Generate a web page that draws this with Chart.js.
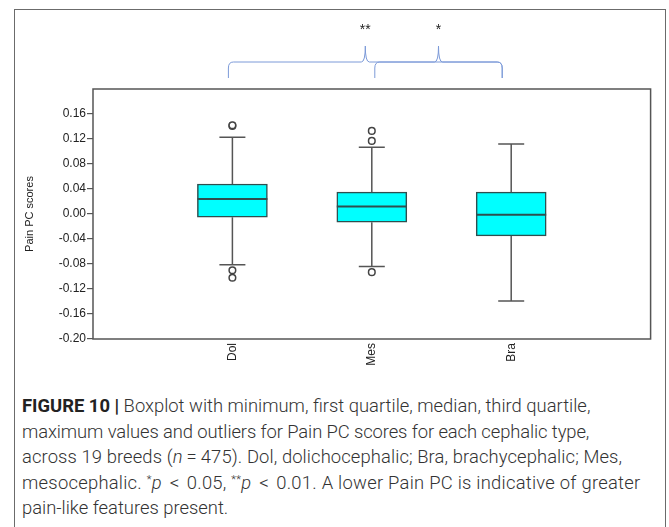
<!DOCTYPE html>
<html>
<head>
<meta charset="utf-8">
<script src="https://cdn.jsdelivr.net/npm/chart.js@4"></script>
<style>
  html, body { margin: 0; padding: 0; background: #fff; }
  body { width: 669px; height: 527px; position: relative; overflow: hidden; }
  #frame {
    position: absolute; left: 14px; top: 9px; width: 652px; height: 560px;
    border: 1px solid #6b6b6b; box-sizing: border-box;
  }
  #chart { position: absolute; left: 0; top: 0; }
  #caption {
    position: absolute; left: 22px; top: 393px;
    font-family: Roboto, "Liberation Sans", sans-serif;
    font-size: 18.4px; line-height: 25.5px; color: #333;
    white-space: nowrap; font-weight: 300;
  }
  #caption b { color: #222; font-weight: 700; }
  #caption .st { font-size: 11px; position: relative; top: -6px; line-height: 0; }
  #caption .op { display: inline-block; margin: 0 7px 0 8px; font-size: 19px; line-height: 0; }
  #caption .eq { display: inline-block; margin: 0 4px; line-height: 0; }
  #caption .l2 { letter-spacing: -0.1px; }
  #caption .l3 { letter-spacing: 0.1px; }
  #caption .l4 { letter-spacing: 0.25px; }
</style>
</head>
<body>
<div id="frame"></div>
<canvas id="chart" width="669" height="380"></canvas>
<div id="caption">
  <b>FIGURE 10 |</b> Boxplot with minimum, first quartile, median, third quartile,<br>
  <span class="l2">maximum values and outliers for Pain PC scores for each cephalic type,</span><br>
  <span class="l3">across 19 breeds (<i>n</i><span class="eq">=</span>475). Dol, dolichocephalic; Bra, brachycephalic; Mes,</span><br>
  <span class="l4">mesocephalic. <span class="st">*</span><i>p</i><span class="op">&lt;</span>0.05, <span class="st">**</span><i>p</i><span class="op">&lt;</span>0.01. A lower Pain PC is indicative of greater</span><br>
  pain-like features present.
</div>
<script>
// --- data ---
const CATEGORIES = ['Dol', 'Mes', 'Bra'];
const WHISKER_LOW = [-0.081, -0.084, -0.139];
const Q1 = [-0.005, -0.013, -0.035];
const MEDIAN = [0.024, 0.012, -0.001];
const Q3 = [0.048, 0.035, 0.035];
const WHISKER_HIGH = [0.123, 0.107, 0.112];
const OUTLIERS = [
    [0.141, 0.142, -0.090, -0.102],
    [0.133, 0.117, -0.093],
    []
];
const Y_TICKS = [0.16, 0.12, 0.08, 0.04, 0.00, -0.04, -0.08, -0.12, -0.16, -0.20];
// significance brackets: [from, to, stars]
const BRACKETS = [
    ['Dol', 'Bra', '**'],
    ['Mes', 'Bra', '*']
];

// padded labels so the three boxes sit at 1/4, 2/4, 3/4 of the plot width
const labels = [''].concat(CATEGORIES, ['']);
const pad = arr => [null].concat(arr, [null]);

const boxData = pad(CATEGORIES.map((c, i) => [Q1[i], Q3[i]]));
const outlierPoints = [];
CATEGORIES.forEach((c, i) => OUTLIERS[i].forEach(v => outlierPoints.push({ x: c, y: v })));

const BOX_FILL = '#00ffff';
const BOX_EDGE = '#2e4f4f';
const LINE = '#555555';
// the hand-drawn brackets do not end exactly on the box centres
const BRACKET_NUDGE = [-4, 3, -9];

// whiskers, caps and medians, drawn from the scales
const boxExtras = {
    id: 'boxExtras',
    afterDatasetsDraw(chart) {
        const { ctx, scales: { x, y } } = chart;
        ctx.save();
        CATEGORIES.forEach((c, i) => {
            const cx = x.getPixelForValue(i + 1);
            const half = 35, cap = 13;
            ctx.strokeStyle = LINE;
            ctx.lineWidth = 1.5;
            ctx.beginPath();
            ctx.moveTo(cx, y.getPixelForValue(Q3[i]));
            ctx.lineTo(cx, y.getPixelForValue(WHISKER_HIGH[i]));
            ctx.moveTo(cx - cap, y.getPixelForValue(WHISKER_HIGH[i]));
            ctx.lineTo(cx + cap, y.getPixelForValue(WHISKER_HIGH[i]));
            ctx.moveTo(cx, y.getPixelForValue(Q1[i]));
            ctx.lineTo(cx, y.getPixelForValue(WHISKER_LOW[i]));
            ctx.moveTo(cx - cap, y.getPixelForValue(WHISKER_LOW[i]));
            ctx.lineTo(cx + cap, y.getPixelForValue(WHISKER_LOW[i]));
            ctx.stroke();
            ctx.strokeStyle = BOX_EDGE;
            ctx.lineWidth = 2;
            ctx.beginPath();
            ctx.moveTo(cx - half, y.getPixelForValue(MEDIAN[i]));
            ctx.lineTo(cx + half, y.getPixelForValue(MEDIAN[i]));
            ctx.stroke();
        });
        ctx.restore();
    },
    afterDraw(chart) {
        const { ctx, chartArea: a, scales: { x } } = chart;
        ctx.save();
        // plot frame
        ctx.strokeStyle = LINE;
        ctx.lineWidth = 1.5;
        ctx.strokeRect(a.left, a.top, a.right - a.left, a.bottom - a.top);

        // significance brackets above the plot
        const yLine = 62, yTip = 78, yPeak = 46;
        ctx.strokeStyle = '#7c9ad8';
        ctx.lineWidth = 1;
        BRACKETS.forEach(([from, to, stars]) => {
            const i1 = CATEGORIES.indexOf(from), i2 = CATEGORIES.indexOf(to);
            const x1 = x.getPixelForValue(i1 + 1) + BRACKET_NUDGE[i1];
            const x2 = x.getPixelForValue(i2 + 1) + BRACKET_NUDGE[i2];
            const xm = (x1 + x2) / 2;
            ctx.beginPath();
            ctx.moveTo(x1, yTip);
            ctx.lineTo(x1, yLine + 6);
            ctx.quadraticCurveTo(x1, yLine, x1 + 5, yLine);
            ctx.lineTo(xm - 4, yLine);
            ctx.quadraticCurveTo(xm, yLine, xm, yPeak);
            ctx.quadraticCurveTo(xm, yLine, xm + 4, yLine);
            ctx.lineTo(x2 - 5, yLine);
            ctx.quadraticCurveTo(x2, yLine, x2, yLine + 6);
            ctx.lineTo(x2, yTip);
            ctx.stroke();
            ctx.fillStyle = '#222';
            ctx.font = '14px "Liberation Sans", Arial, sans-serif';
            ctx.textAlign = 'center';
            ctx.textBaseline = 'middle';
            ctx.fillText(stars, xm, 30);
        });
        ctx.restore();
    }
};

const tickFont = { family: '"Liberation Sans", Arial, sans-serif', size: 12 };

new Chart(document.getElementById('chart'), {
    data: {
        labels: labels,
        datasets: [
            {
                type: 'bar',
                data: boxData,
                backgroundColor: BOX_FILL,
                borderColor: BOX_EDGE,
                borderWidth: 1.5,
                borderSkipped: false,
                barThickness: 70
            },
            {
                type: 'line',
                data: outlierPoints,
                showLine: false,
                pointStyle: 'circle',
                pointRadius: 3.3,
                pointBackgroundColor: '#ffffff',
                pointBorderColor: '#444444',
                pointBorderWidth: 1.5
            }
        ]
    },
    options: {
        responsive: false,
        animation: false,
        layout: { padding: { left: 14, top: 89, right: 12, bottom: 0 } },
        plugins: { legend: { display: false }, tooltip: { enabled: false } },
        scales: {
            x: {
                type: 'category',
                offset: false,
                border: { display: false },
                grid: { display: false, drawTicks: false },
                ticks: {
                    autoSkip: false, minRotation: 90, maxRotation: 90,
                    padding: 4, color: '#222', font: tickFont
                },
                afterFit: s => { s.height = 41; }
            },
            y: {
                min: -0.20,
                max: 0.20,
                border: { display: false },
                grid: { drawOnChartArea: false, drawTicks: true, tickLength: 6, color: LINE, lineWidth: 1.2 },
                afterBuildTicks: s => { s.ticks = Y_TICKS.map(v => ({ value: v })); },
                ticks: {
                    padding: 1, color: '#222', font: tickFont,
                    callback: v => v.toFixed(2)
                },
                title: {
                    display: true, text: 'Pain PC scores', color: '#222',
                    font: { family: '"Liberation Sans", Arial, sans-serif', size: 11 },
                    padding: { top: 9, bottom: 0 }
                },
                afterFit: s => { s.width = 79; }
            }
        }
    },
    plugins: [boxExtras]
});
</script>
</body>
</html>
